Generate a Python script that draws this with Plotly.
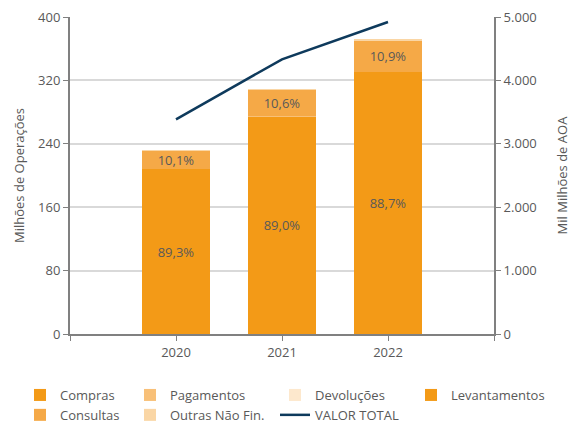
import plotly.graph_objects as go

years = ["2020", "2021", "2022"]
compras = [207.2, 275.0, 330.0]
pagamentos = [0.2, 0.2, 0.2]
devolucoes = [0.1, 0.1, 0.1]
levantamentos = [0.1, 0.1, 0.1]
consultas = [23.4, 32.8, 40.5]
outras = [1.0, 0.8, 1.1]
valor_total = [3386, 4333, 4921]
compras_lbl = ["89,3%", "89,0%", "88,7%"]
consultas_lbl = ["10,1%", "10,6%", "10,9%"]
y1_ticks = [0, 80, 160, 240, 320, 400]
y2_ticks = [0, 1000, 2000, 3000, 4000, 5000]
y2_ticktext = ["0", "1.000", "2.000", "3.000", "4.000", "5.000"]

FONT = "Open Sans"
TXT = "#595959"
W = 0.65
xpos = list(range(len(years)))

# page has an 8px body margin: figure coordinates = screen - 8
OFF = 8
FW, FH = 576 - OFF, 423 - OFF
PL, PR, PT, PB = 70 - OFF, 494 - OFF, 17 - OFF, 334 - OFF

fig = go.Figure()

def bar(name, vals, color, legend, text=None):
    fig.add_trace(go.Bar(
        x=xpos, y=vals, name=name, marker=dict(color=color, line=dict(width=0)),
        width=W, legend=legend, legendgroup=name,
        text=text, textposition="inside" if text else "none",
        insidetextanchor="middle", textangle=0, constraintext="none",
        textfont=dict(color=TXT, size=13, family=FONT),
        hoverinfo="skip",
    ))

bar("Compras", compras, "#F39A17", "legend", compras_lbl)
bar("Pagamentos", pagamentos, "#F8C078", "legend2")
bar("Devoluções", devolucoes, "#FDE8CD", "legend3")
bar("Levantamentos", levantamentos, "#F39A17", "legend4")
bar("Consultas", consultas, "#F5A947", "legend", consultas_lbl)
bar("Outras Não Fin.", outras, "#FAD6A5", "legend2")

fig.add_trace(go.Scatter(
    x=xpos, y=valor_total, name="VALOR TOTAL", mode="lines",
    line=dict(color="#0E3A5C", width=2.5), yaxis="y2", legend="legend3",
    legendgroup="VALOR TOTAL",
))

def leg(xpx, ypx=380):
    xs, ys = xpx - OFF, ypx - OFF
    return dict(
        x=(xs - PL) / (PR - PL), y=(PB - ys) / (PB - PT),
        xanchor="left", yanchor="top", orientation="v",
        font=dict(family=FONT, size=13, color=TXT), bgcolor="rgba(0,0,0,0)",
        tracegroupgap=0, itemwidth=30, traceorder="grouped",
    )

fig.update_layout(
    width=FW, height=FH,
    margin=dict(l=PL, r=FW - PR, t=PT, b=FH - PB, autoexpand=False),
    paper_bgcolor="white", plot_bgcolor="white",
    barmode="stack",
    font=dict(family=FONT, size=13, color=TXT),
    showlegend=True,
    legend=leg(20), legend2=leg(130), legend3=leg(275), legend4=leg(411),
    xaxis=dict(
        range=[-1, 3], showgrid=False, zeroline=False,
        tickvals=[-1] + xpos + [3], ticktext=[""] + years + [""],
        showline=True, linecolor="#808080", linewidth=2,
        ticks="outside", ticklen=5, tickcolor="#808080", tickwidth=1,
        tickfont=dict(size=13, color=TXT, family=FONT),
        ticklabeloverflow="allow",
    ),
    yaxis=dict(
        range=[0, 400], tickvals=y1_ticks, showgrid=True,
        gridcolor="#D9D9D9", gridwidth=2,
        showline=True, linecolor="#808080", linewidth=2,
        ticks="outside", ticklen=5, tickcolor="#808080",
        tickfont=dict(size=13, color=TXT, family=FONT),
        ticklabeloverflow="allow",
        title=dict(text="Milhões de Operações", font=dict(size=13, color=TXT, family=FONT), standoff=11),
        zeroline=False,
    ),
    yaxis2=dict(
        range=[0, 5000], tickvals=y2_ticks, ticktext=y2_ticktext,
        overlaying="y", side="right", showgrid=False,
        showline=True, linecolor="#808080", linewidth=2,
        ticks="outside", ticklen=5, tickcolor="#808080",
        tickfont=dict(size=13, color=TXT, family=FONT),
        ticklabeloverflow="allow",
        title=dict(text="Mil Milhões de AOA", font=dict(size=13, color=TXT, family=FONT), standoff=22),
        zeroline=False,
    ),
)

fig.write_html("out.html")
